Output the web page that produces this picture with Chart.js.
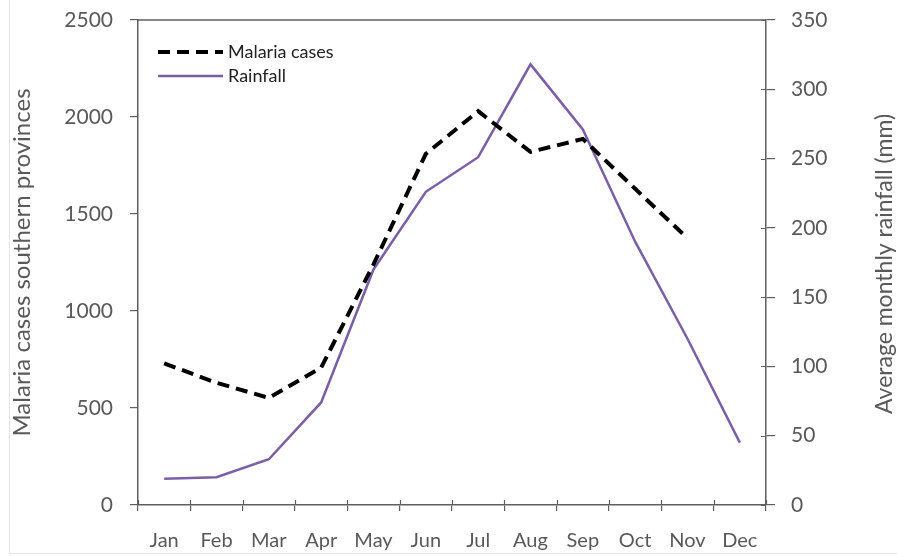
<!DOCTYPE html>
<html>
<head>
<meta charset="utf-8">
<script src="https://cdn.jsdelivr.net/npm/chart.js@4/dist/chart.umd.min.js"></script>
<style>
  html, body { margin: 0; padding: 0; background: #ffffff; }
  #wrap { position: relative; width: 897px; height: 556px; }
  canvas { display: block; }
</style>
</head>
<body>
<div id="wrap"><canvas id="c" width="897" height="556"></canvas></div>
<script>
const months = ['Jan', 'Feb', 'Mar', 'Apr', 'May', 'Jun', 'Jul', 'Aug', 'Sep', 'Oct', 'Nov', 'Dec'];
const malariaCases = [730, 630, 552, 708, 1240, 1810, 2030, 1820, 1887, 1630, 1375, null];
const rainfallMm = [19, 20, 33, 74, 170, 226, 251, 318, 271, 190, 120, 45];
const leftTicks = [0, 500, 1000, 1500, 2000, 2500];
const rightTicks = [0, 50, 100, 150, 200, 250, 300, 350];
const leftTitle = 'Malaria cases southern provinces';
const rightTitle = 'Average monthly rainfall (mm)';

const FONT = 'Lato, "Open Sans", sans-serif';
const AXIS = '#5f5f5f';
const TEXT = '#595959';

const framePlugin = {
  id: 'frame',
  beforeDraw(chart) {
    const ctx = chart.ctx;
    ctx.save();
    ctx.strokeStyle = '#e4e4e4';
    ctx.lineWidth = 1;
    ctx.beginPath();
    ctx.moveTo(9.5, 0); ctx.lineTo(9.5, 553.5); ctx.lineTo(897, 553.5);
    ctx.stroke();
    ctx.restore();
  },
  afterDraw(chart) {
    const ctx = chart.ctx;
    const a = chart.chartArea;
    ctx.save();
    ctx.strokeStyle = AXIS;
    ctx.lineWidth = 1.5;
    ctx.beginPath();
    ctx.moveTo(a.left, a.top); ctx.lineTo(a.right, a.top);
    ctx.stroke();
    ctx.lineWidth = 1.2;
    const xs = chart.scales.x;
    ctx.beginPath();
    for (let i = 0; i <= months.length; i++) {
      const px = Math.round(xs.getPixelForValue(i - 0.5)) + 0.5;
      ctx.moveTo(px, a.bottom); ctx.lineTo(px, a.bottom - 5);
    }
    const y1 = chart.scales.y1;
    rightTicks.forEach(v => {
      const py = Math.round(y1.getPixelForValue(v)) + 0.5;
      ctx.moveTo(a.right, py); ctx.lineTo(a.right - 5, py);
    });
    ctx.stroke();

    ctx.fillStyle = TEXT;
    ctx.font = '23px ' + FONT;
    ctx.textAlign = 'center';
    ctx.textBaseline = 'middle';
    ctx.translate(885, 264);
    ctx.rotate(-Math.PI / 2);
    ctx.fillText(rightTitle, 0, 0);
    ctx.restore();

    ctx.save();
    const ds = chart.data.datasets;
    const rows = [52, 76];
    ds.forEach((d, i) => {
      const y = rows[i];
      ctx.strokeStyle = d.borderColor;
      ctx.lineWidth = d.borderWidth;
      ctx.setLineDash(d.borderDash || []);
      ctx.beginPath();
      ctx.moveTo(158, y); ctx.lineTo(223, y);
      ctx.stroke();
      ctx.setLineDash([]);
      ctx.fillStyle = '#222222';
      ctx.font = '18px ' + FONT;
      ctx.textAlign = 'left';
      ctx.textBaseline = 'middle';
      ctx.fillText(d.label, 228, y);
    });
    ctx.restore();
  }
};

const plain = v => String(v);
const noPadV = s => { s.paddingTop = 0; s.paddingBottom = 0; };

new Chart(document.getElementById('c'), {
  type: 'line',
  data: {
    labels: months,
    datasets: [
      {
        label: 'Malaria cases',
        data: malariaCases,
        yAxisID: 'y',
        borderColor: '#000000',
        borderWidth: 4,
        borderDash: [12, 7],
        pointRadius: 0,
        tension: 0,
        fill: false
      },
      {
        label: 'Rainfall',
        data: rainfallMm,
        yAxisID: 'y1',
        borderColor: '#7b5fa6',
        borderWidth: 2.5,
        pointRadius: 0,
        tension: 0,
        fill: false
      }
    ]
  },
  plugins: [framePlugin],
  options: {
    responsive: false,
    animation: false,
    events: [],
    layout: { padding: { top: 20, left: 0, right: 0, bottom: 0 } },
    plugins: {
      legend: { display: false },
      tooltip: { enabled: false }
    },
    scales: {
      x: {
        type: 'category',
        offset: true,
        grid: { display: true, drawOnChartArea: false, offset: true, tickLength: 6, color: AXIS, lineWidth: 1.2 },
        border: { display: true, color: AXIS, width: 1.5 },
        ticks: { color: TEXT, font: { family: FONT, size: 20 }, padding: 18, maxRotation: 0, autoSkip: false },
        afterFit(s) { s.height = 51; s.paddingLeft = 0; s.paddingRight = 0; }
      },
      y: {
        position: 'left',
        min: 0, max: 2500,
        afterBuildTicks(s) { s.ticks = leftTicks.map(v => ({ value: v })); },
        grid: { display: true, drawOnChartArea: false, tickLength: 8, color: AXIS, lineWidth: 1.2 },
        border: { display: true, color: AXIS, width: 1.5 },
        ticks: { color: TEXT, font: { family: FONT, size: 21 }, padding: 17, callback: plain },
        title: { display: true, text: leftTitle, color: TEXT, font: { family: FONT, size: 24 }, padding: { top: 8, bottom: 0 } },
        afterFit(s) { s.width = 138; noPadV(s); }
      },
      y1: {
        position: 'right',
        min: 0, max: 350,
        afterBuildTicks(s) { s.ticks = rightTicks.map(v => ({ value: v })); },
        grid: { display: true, drawOnChartArea: false, tickLength: 9, color: AXIS, lineWidth: 1.2 },
        border: { display: true, color: AXIS, width: 1.5 },
        ticks: { color: TEXT, font: { family: FONT, size: 21 }, padding: 16, callback: plain },
        afterFit(s) { s.width = 131; noPadV(s); }
      }
    }
  }
});
</script>
</body>
</html>
